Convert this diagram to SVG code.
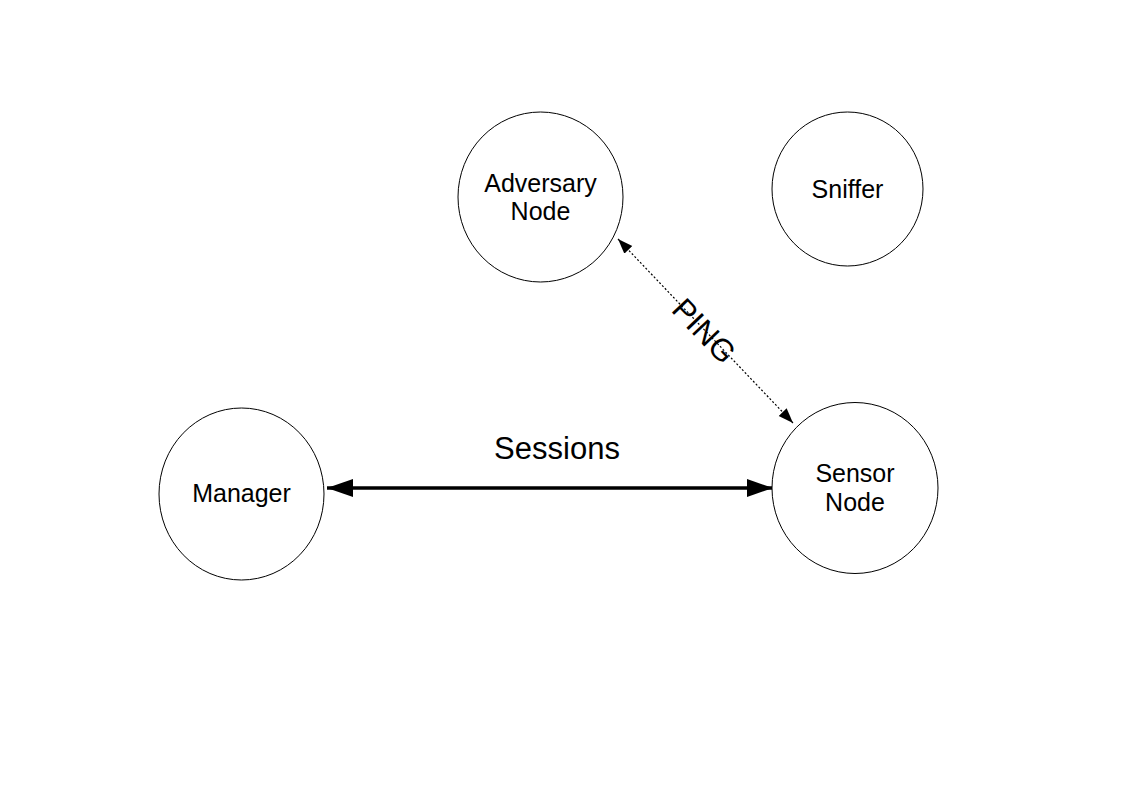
<svg xmlns="http://www.w3.org/2000/svg" width="1123" height="794" viewBox="0 0 1123 794">
<style>
.node{fill:#fff;stroke:#000;stroke-width:1}
.lbl{font-family:"Liberation Sans",Arial,sans-serif;font-size:25px;fill:#000;text-anchor:middle}
.big{font-family:"Liberation Sans",Arial,sans-serif;font-size:31px;fill:#000;text-anchor:middle}
</style>
<defs>
<marker id="headBig" markerUnits="userSpaceOnUse" markerWidth="28" markerHeight="20" refX="26" refY="9" orient="auto-start-reverse" viewBox="0 0 28 20">
<path d="M0,0 L26,9 L0,18 Z" fill="#000"/>
</marker>
<marker id="headSmall" markerUnits="userSpaceOnUse" markerWidth="16" markerHeight="12" refX="15" refY="5.5" orient="auto-start-reverse" viewBox="0 0 16 12">
<path d="M0,0 L15,5.5 L0,11 Z" fill="#000"/>
</marker>
</defs>
<rect width="1123" height="794" fill="#fff"/>
<g id="connectors">
<line x1="327" y1="488" x2="773" y2="488" stroke="#000" stroke-width="3.5" marker-start="url(#headBig)" marker-end="url(#headBig)"/>
<text class="big" x="557" y="459">Sessions</text>
<line x1="618" y1="239" x2="793" y2="423" stroke="#000" stroke-width="1.2" stroke-dasharray="2 2" marker-start="url(#headSmall)" marker-end="url(#headSmall)"/>
<text class="big" font-size="29" transform="translate(704,331) rotate(46.4)" x="0" y="10.5">PING</text>
</g>
<g id="adversary">
<ellipse class="node" cx="540.5" cy="197" rx="82.5" ry="85"/>
<text class="lbl" x="540.5" y="192">Adversary</text>
<text class="lbl" x="540.5" y="219.5">Node</text>
</g>
<g id="sniffer">
<ellipse class="node" cx="847.5" cy="189" rx="75.5" ry="77"/>
<text class="lbl" x="847.5" y="198">Sniffer</text>
</g>
<g id="manager">
<ellipse class="node" cx="241.5" cy="494" rx="82.5" ry="86"/>
<text class="lbl" x="241.5" y="502">Manager</text>
</g>
<g id="sensor">
<ellipse class="node" cx="855" cy="488" rx="83" ry="85.5"/>
<text class="lbl" x="855" y="482">Sensor</text>
<text class="lbl" x="855" y="510.5">Node</text>
</g>
</svg>
